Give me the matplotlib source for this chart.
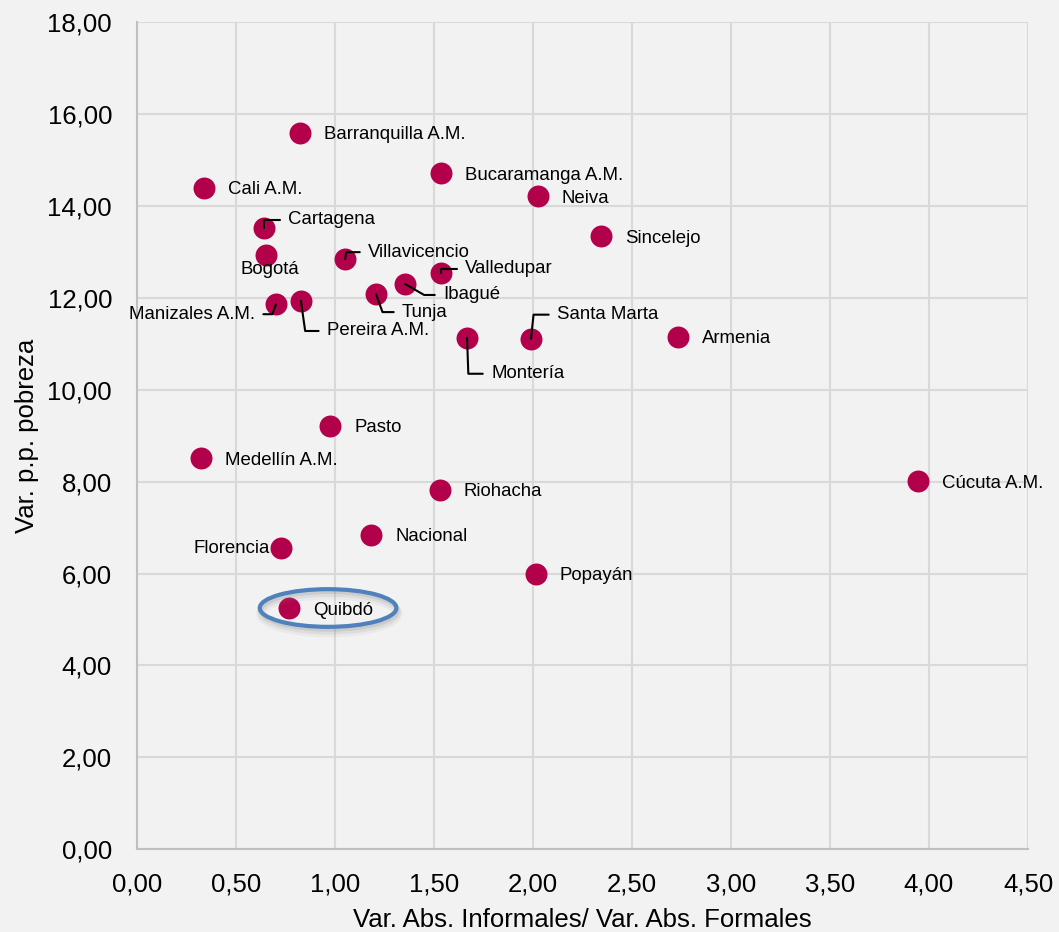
import matplotlib
matplotlib.use("Agg")
import matplotlib.pyplot as plt
from matplotlib.patches import Ellipse
from matplotlib.ticker import FuncFormatter
import numpy as np

plt.rcParams['font.family'] = ['Liberation Sans', 'DejaVu Sans']

cities = ["Barranquilla A.M.", "Bucaramanga A.M.", "Cali A.M.", "Neiva", "Cartagena",
          "Sincelejo", "Bogotá", "Villavicencio", "Valledupar", "Ibagué", "Tunja",
          "Manizales A.M.", "Pereira A.M.", "Montería", "Santa Marta", "Armenia",
          "Pasto", "Medellín A.M.", "Cúcuta A.M.", "Riohacha", "Nacional", "Florencia",
          "Popayán", "Quibdó"]
ratio_inf_form = [0.823, 1.535, 0.338, 2.025, 0.641, 2.343, 0.652, 1.051, 1.535, 1.354, 1.207,
                  0.702, 0.828, 1.667, 1.990, 2.732, 0.975, 0.323, 3.944, 1.530, 1.182, 0.727,
                  2.015, 0.768]
var_pobreza = [15.59, 14.71, 14.39, 14.21, 13.52, 13.34, 12.93, 12.84, 12.54, 12.30, 12.08,
               11.86, 11.93, 11.13, 11.11, 11.15, 9.21, 8.51, 8.01, 7.82, 6.84, 6.56,
               5.99, 5.25]

# label placement: (dx, dy) offset in pixels, ha
plain = (24, -2, 'left')
label_style = {
    "Florencia": (-11, -1, 'right'),
    "Bogotá": (4, -14, 'center'),
}
leaders = {
    # name: (dx, dy, ha, angleB)
    "Cartagena": (24, 8, 'left', 90),
    "Villavicencio": (23, 7, 'left', 80),
    "Valledupar": (24, 4, 'left', 90),
    "Ibagué": (38, -11, 'left', -30),
    "Tunja": (26, -18, 'left', -70),
    "Manizales A.M.": (-21, -10, 'right', 70),
    "Pereira A.M.": (26, -30, 'left', -82),
    "Montería": (24, -36, 'left', -88),
    "Santa Marta": (26, 24, 'left', 84),
}

W, H = 1059, 932
fig = plt.figure(figsize=(W / 100, H / 100), dpi=100)
bg = '#f2f2f2'
fig.patch.set_facecolor(bg)
ax = fig.add_axes([137 / W, (H - 849.3) / H, (1028 - 137) / W, (849.3 - 22) / H])
ax.set_facecolor(bg)

ax.set_xlim(0, 4.5)
ax.set_ylim(0, 18)
ax.set_xticks(np.arange(0, 4.51, 0.5))
ax.set_yticks(np.arange(0, 18.1, 2))
fmt = FuncFormatter(lambda v, p: f"{v:.2f}".replace('.', ','))
ax.xaxis.set_major_formatter(fmt)
ax.yaxis.set_major_formatter(fmt)
ax.grid(True, color='#d9d9d9', linewidth=1.5)
ax.set_axisbelow(True)
for s in ['top', 'right']:
    ax.spines[s].set_visible(False)
for s in ['left', 'bottom']:
    ax.spines[s].set_color('#bfbfbf')
    ax.spines[s].set_linewidth(1.5)
ax.tick_params(length=0, labelsize=18.5, colors='#000000')
ax.tick_params(axis='x', pad=17)
ax.tick_params(axis='y', pad=18)

ax.scatter(ratio_inf_form, var_pobreza, s=250, color='#B3004B', zorder=3, linewidths=0)

for name, xv, yv in zip(cities, ratio_inf_form, var_pobreza):
    if name in leaders:
        dx, dy, ha, angB = leaders[name]
        ax.annotate(name, xy=(xv, yv), xytext=(dx, dy), textcoords='offset pixels',
                    ha=ha, va='center', fontsize=13.4, zorder=5,
                    arrowprops=dict(arrowstyle='-', color='black', lw=1.5,
                                    shrinkA=6, shrinkB=0, patchA=None,
                                    relpos=(0 if ha == 'left' else 1, 0.5),
                                    connectionstyle=f"angle,angleA=0,angleB={angB},rad=0"))
    else:
        dx, dy, ha = label_style.get(name, plain)
        ax.annotate(name, xy=(xv, yv), xytext=(dx, dy), textcoords='offset pixels',
                    ha=ha, va='center', fontsize=13.4, zorder=5)

# highlight ellipse around Quibdó
qi = cities.index("Quibdó")
cx = ratio_inf_form[qi] + 0.197
cy = var_pobreza[qi]
for k, a in enumerate([0.18, 0.12, 0.07]):
    sh = Ellipse((cx + 0.006, cy - 0.06 - 0.03 * k), 0.69, 0.82, fill=False,
                 edgecolor='#808080', linewidth=3 + 2 * k, alpha=a, zorder=4)
    ax.add_patch(sh)
ell = Ellipse((cx, cy), 0.69, 0.82, fill=False, edgecolor='#4F81BD', linewidth=3, zorder=4)
ax.add_patch(ell)

ax.set_xlabel("Var. Abs. Informales/ Var. Abs. Formales", fontsize=18.5, labelpad=8)
ax.set_ylabel("Var. p.p. pobreza", fontsize=18.5, labelpad=6)

fig.savefig("out.png", dpi=100, facecolor=bg)
